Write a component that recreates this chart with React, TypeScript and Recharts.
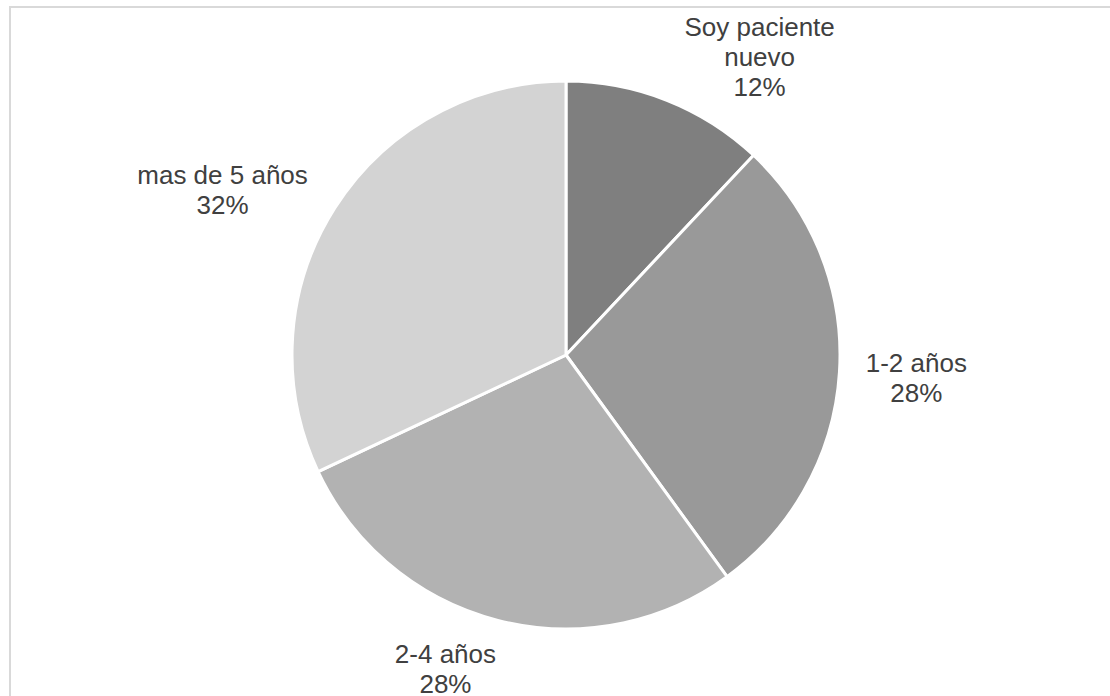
import { PieChart, Pie, Cell } from "recharts";

const categories = ["Soy paciente nuevo", "1-2 años", "2-4 años", "mas de 5 años"];
const shares = [12, 28, 28, 32];

const sliceColors = ["#7f7f7f", "#999999", "#b2b2b2", "#d3d3d3"];
// small shifts so the labels sit where the layout puts them
const labelNudge = [
  { dx: 67, dy: 22 },
  { dx: 7, dy: 1 },
  { dx: -35, dy: -19 },
  { dx: -53, dy: 19 },
];

const data = categories.map((name, i) => ({ name, value: shares[i] }));

const RAD = Math.PI / 180;
const FONT = 26;
const LINE = 30;

function wrap(text: string, max = 14): string[] {
  if (text.length <= max) return [text];
  const cut = text.lastIndexOf(" ", max);
  if (cut < 0) return [text];
  return [text.slice(0, cut), ...wrap(text.slice(cut + 1), max)];
}

function renderLabel(props: any) {
  const { cx, cy, midAngle, outerRadius, index, name, value } = props;
  const r = outerRadius + 70;
  const lines = [...wrap(name), `${value}%`];
  const nudge = labelNudge[index] ?? { dx: 0, dy: 0 };
  const x = cx + r * Math.cos(-midAngle * RAD) + nudge.dx;
  const y = cy + r * Math.sin(-midAngle * RAD) - ((lines.length - 1) * LINE) / 2 + 9 + nudge.dy;
  return (
    <text
      key={`lbl-${index}`}
      x={x}
      y={y}
      textAnchor="middle"
      fill="#404040"
      fontSize={FONT}
      fontFamily="'Liberation Sans', Arial, sans-serif"
    >
      {lines.map((line, i) => (
        <tspan key={i} x={x} dy={i === 0 ? 0 : LINE}>
          {line}
        </tspan>
      ))}
    </text>
  );
}

export default function App() {
  return (
    <div
      style={{
        position: "absolute",
        left: 9,
        top: 6,
        width: 1101,
        height: 690,
        borderTop: "2px solid #d9d9d9",
        borderLeft: "2px solid #d9d9d9",
        background: "#fff",
        overflow: "hidden",
      }}
    >
      <PieChart width={1099} height={688} margin={{ top: 0, right: 0, bottom: 0, left: 0 }}>
        <Pie
          data={data}
          dataKey="value"
          nameKey="name"
          cx={555}
          cy={347}
          outerRadius={274}
          startAngle={90}
          endAngle={-270}
          stroke="#ffffff"
          strokeWidth={3}
          labelLine={false}
          label={renderLabel}
          isAnimationActive={false}
        >
          {data.map((d, i) => (
            <Cell key={d.name} fill={sliceColors[i]} />
          ))}
        </Pie>
      </PieChart>
    </div>
  );
}
